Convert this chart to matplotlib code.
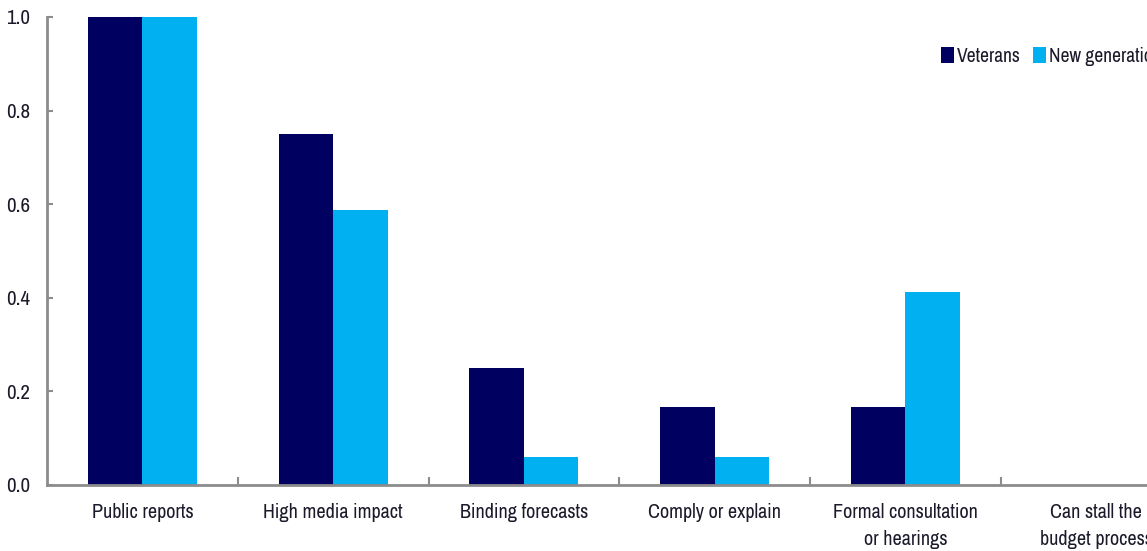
import numpy as np
import matplotlib
matplotlib.use("Agg")
import matplotlib.pyplot as plt
from matplotlib.ticker import FixedLocator, FormatStrFormatter

plt.rcParams['font.family'] = ['Archivo Narrow', 'Roboto Condensed', 'Liberation Sans', 'DejaVu Sans']

categories = ["Public reports", "High media impact", "Binding forecasts",
              "Comply or explain", "Formal consultation\nor hearings",
              "Can stall the\nbudget process"]
veterans = [1.0, 0.75, 0.25, 0.1667, 0.1667, 0.0]
new_generation = [1.0, 0.588, 0.059, 0.059, 0.412, 0.0]

navy = "#000060"
cyan = "#00B0F0"
grey = "#8c8c8c"
text_col = "#1a1a2a"

fig = plt.figure(figsize=(11.47, 5.51), dpi=100)
# axes runs past the right edge of the figure on purpose
ax = fig.add_axes([47 / 1147, 66 / 551, 1144.5 / 1147, 468 / 551])

x = np.arange(len(categories))
w = 0.286
ax.bar(x - w / 2, veterans, w, color=navy, label="Veterans")
ax.bar(x + w / 2, new_generation, w, color=cyan, label="New generation")

ax.set_xlim(-0.5, len(categories) - 0.5)
ax.set_ylim(0, 1.0)
ax.set_yticks(np.arange(0, 1.01, 0.2))
ax.yaxis.set_major_formatter(FormatStrFormatter("%.1f"))

ax.set_xticks(x)
ax.set_xticklabels(categories, linespacing=1.5)
ax.xaxis.set_minor_locator(FixedLocator(x[:-1] + 0.5))
ax.tick_params(axis='x', which='major', length=0, pad=13, labelsize=14.5, labelcolor=text_col)
ax.tick_params(axis='x', which='minor', length=6, width=1.5, direction='in', color=grey)
ax.tick_params(axis='y', length=4, width=1.5, direction='in', color=grey,
               pad=12, labelsize=15, labelcolor=text_col)

for s in ['top', 'right']:
    ax.spines[s].set_visible(False)
for s in ['left', 'bottom']:
    ax.spines[s].set_color(grey)
    ax.spines[s].set_linewidth(2)

fig.legend(loc='center left', bbox_to_anchor=(923 / 1147, 1 - 56 / 551),
           ncol=2, frameon=False, fontsize=14, handlelength=0.7,
           handleheight=0.9, handletextpad=0.15, columnspacing=0.6,
           labelcolor=text_col)

fig.savefig("out.png", dpi=100)
